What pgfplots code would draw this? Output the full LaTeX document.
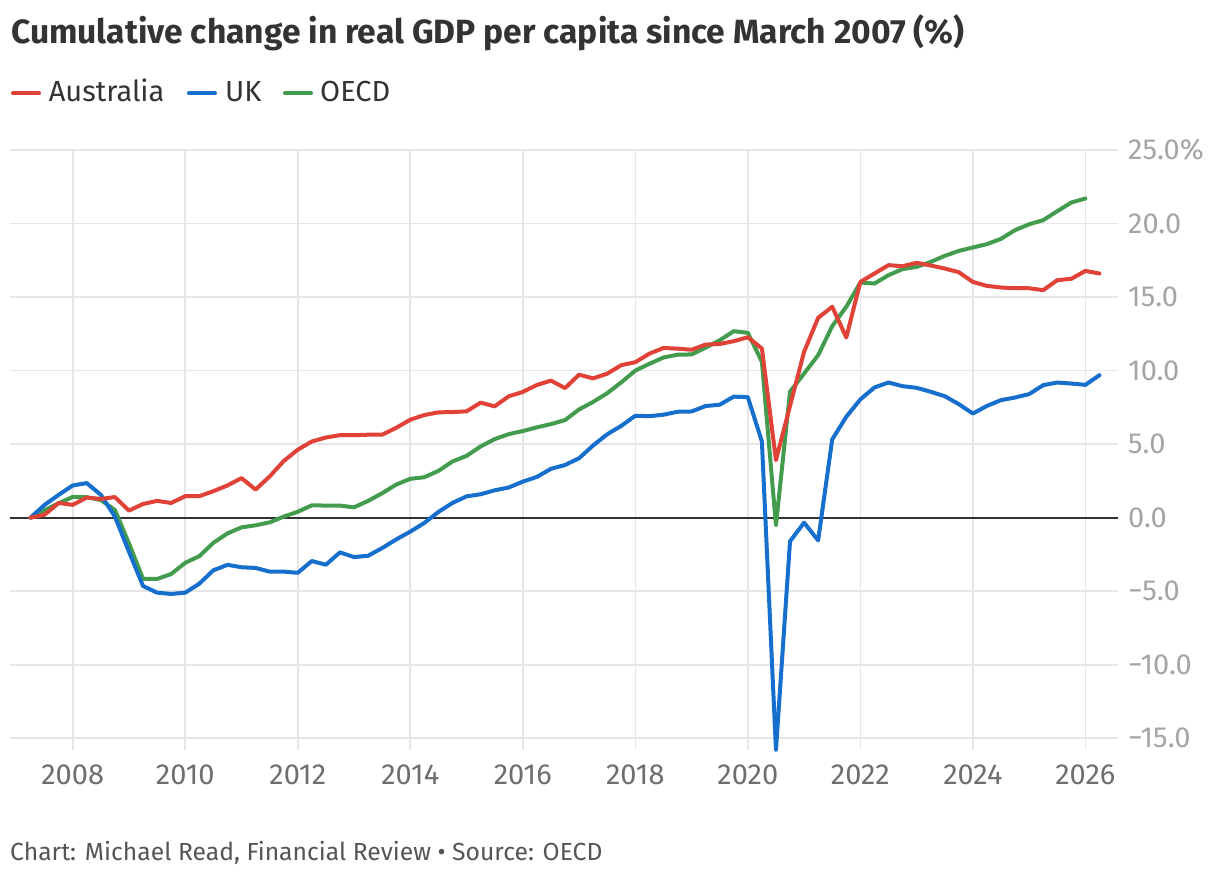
\documentclass[border=0pt]{standalone}
\usepackage{fontspec}
\setmainfont{Fira Sans}
\usepackage{pgfplots}
\usepackage{pgfplotstable}
\pgfplotsset{compat=1.18}
\definecolor{ausred}{RGB}{224,66,56}
\definecolor{ukblue}{RGB}{22,110,205}
\definecolor{oecdgreen}{RGB}{67,155,77}
\definecolor{gridgray}{RGB}{230,230,230}
\definecolor{titlegray}{RGB}{51,51,51}
\definecolor{xlab}{RGB}{110,110,110}
\definecolor{ylab}{RGB}{165,165,165}
\definecolor{footgray}{RGB}{85,85,85}

\pgfplotstableread{
t aus uk
2007.25 0 0
2007.5 0.2 0.87
2007.75 1.0 1.55
2008.0 0.87 2.19
2008.25 1.37 2.35
2008.5 1.27 1.55
2008.75 1.4 0.07
2009.0 0.48 -2.32
2009.25 0.93 -4.65
2009.5 1.14 -5.1
2009.75 1.0 -5.19
2010.0 1.46 -5.1
2010.25 1.46 -4.49
2010.5 1.8 -3.58
2010.75 2.19 -3.21
2011.0 2.69 -3.37
2011.25 1.91 -3.42
2011.5 2.8 -3.67
2011.75 3.85 -3.67
2012.0 4.62 -3.75
2012.25 5.18 -2.95
2012.5 5.45 -3.2
2012.75 5.61 -2.36
2013.0 5.61 -2.68
2013.25 5.64 -2.59
2013.5 5.64 -2.07
2013.75 6.11 -1.48
2014.0 6.66 -0.95
2014.25 6.98 -0.36
2014.5 7.16 0.39
2014.75 7.18 1.0
2015.0 7.23 1.45
2015.25 7.82 1.59
2015.5 7.57 1.86
2015.75 8.25 2.05
2016.0 8.55 2.45
2016.25 9.02 2.77
2016.5 9.32 3.32
2016.75 8.81 3.58
2017.0 9.72 4.04
2017.25 9.47 4.91
2017.5 9.79 5.67
2017.75 10.37 6.24
2018.0 10.57 6.93
2018.25 11.15 6.9
2018.5 11.54 7.0
2018.75 11.49 7.2
2019.0 11.42 7.22
2019.25 11.77 7.59
2019.5 11.81 7.68
2019.75 12.0 8.23
2020.0 12.27 8.19
2020.25 11.5 5.18
2020.5 3.91 -15.8
2020.75 7.6 -1.61
2021.0 11.28 -0.34
2021.25 13.59 -1.55
2021.5 14.34 5.32
2021.75 12.25 6.86
2022.0 16.03 8.04
2022.25 16.6 8.85
2022.5 17.17 9.19
2022.75 17.1 8.94
2023.0 17.33 8.83
2023.25 17.15 8.56
2023.5 16.94 8.26
2023.75 16.69 7.72
2024.0 16.03 7.08
2024.25 15.76 7.6
2024.5 15.65 7.99
2024.75 15.6 8.17
2025.0 15.6 8.4
2025.25 15.47 9.01
2025.5 16.15 9.19
2025.75 16.24 9.12
2026.0 16.78 9.03
2026.25 16.6 9.69
}\ausuk

\pgfplotstableread{
t oecd
2007.25 0
2007.5 0.5
2007.75 0.98
2008.0 1.41
2008.25 1.39
2008.5 1.2
2008.75 0.52
2009.0 -1.75
2009.25 -4.17
2009.5 -4.17
2009.75 -3.83
2010.0 -3.07
2010.25 -2.62
2010.5 -1.71
2010.75 -1.07
2011.0 -0.66
2011.25 -0.52
2011.5 -0.32
2011.75 0.07
2012.0 0.4
2012.25 0.84
2012.5 0.82
2012.75 0.82
2013.0 0.7
2013.25 1.14
2013.5 1.66
2013.75 2.25
2014.0 2.64
2014.25 2.75
2014.5 3.18
2014.75 3.82
2015.0 4.2
2015.25 4.84
2015.5 5.34
2015.75 5.68
2016.0 5.89
2016.25 6.14
2016.5 6.36
2016.75 6.63
2017.0 7.36
2017.25 7.87
2017.5 8.46
2017.75 9.2
2018.0 10.0
2018.25 10.46
2018.5 10.89
2018.75 11.08
2019.0 11.1
2019.25 11.56
2019.5 12.06
2019.75 12.68
2020.0 12.57
2020.25 10.6
2020.5 -0.52
2020.75 8.57
2021.0 9.8
2021.25 11.05
2021.5 13.02
2021.75 14.34
2022.0 15.99
2022.25 15.92
2022.5 16.49
2022.75 16.9
2023.0 17.05
2023.25 17.39
2023.5 17.8
2023.75 18.14
2024.0 18.37
2024.25 18.6
2024.5 18.96
2024.75 19.55
2025.0 19.95
2025.25 20.23
2025.5 20.84
2025.75 21.43
2026.0 21.7
}\oecd

\begin{document}
\begin{tikzpicture}
\path[use as bounding box] (0pt,0pt) rectangle (1220pt,-878pt);
% title
\node[anchor=base west, inner sep=0pt, text=titlegray, font=\fontsize{33.6}{40}\selectfont\bfseries] at (11pt,-43pt) {Cumulative change in real GDP per capita since March 2007 (\%)};
% legend
\draw[ausred, line width=4pt, line cap=round] (13pt,-93.3pt) -- (39pt,-93.3pt);
\node[anchor=base west, inner sep=0pt, text=titlegray, font=\fontsize{29}{35}\selectfont] at (48.6pt,-101.7pt) {Australia};
\draw[ukblue, line width=4pt, line cap=round] (189pt,-93.3pt) -- (215pt,-93.3pt);
\node[anchor=base west, inner sep=0pt, text=titlegray, font=\fontsize{29}{35}\selectfont] at (225pt,-101.7pt) {UK};
\draw[oecdgreen, line width=4pt, line cap=round] (285pt,-93.3pt) -- (311pt,-93.3pt);
\node[anchor=base west, inner sep=0pt, text=titlegray, font=\fontsize{29}{35}\selectfont] at (320pt,-101.7pt) {OECD};
% footer
\node[anchor=base west, inner sep=0pt, text=footgray, font=\fontsize{24.7}{30}\selectfont] at (10pt,-860pt) {Chart: Michael Read, Financial Review • Source: OECD};

\begin{axis}[
  at={(10pt,-750pt)}, anchor=south west,
  scale only axis, width=1108pt, height=600pt,
  xmin=2006.885, xmax=2026.58, ymin=-15.8, ymax=25,
  axis line style={draw=none},
  major tick length=0pt,
  xtick={2008,2010,2012,2014,2016,2018,2020,2022,2024,2026},
  xticklabels={2008,2010,2012,2014,2016,2018,2020,2022,2024,2026},
  ytick={-15,-10,-5,0,5,10,15,20,25},
  yticklabels={−15.0,−10.0,−5.0,0.0,5.0,10.0,15.0,20.0,25.0\%},
  yticklabel pos=right,
  grid=major,
  major grid style={draw=gridgray, line width=1.6pt},
  xticklabel style={font=\fontsize{29}{35}\selectfont, text=xlab, anchor=north, inner sep=0pt, yshift=-15pt},
  yticklabel style={font=\fontsize{29}{35}\selectfont, text=ylab, anchor=west, inner sep=0pt, xshift=10pt},
  clip=false,
]
\addplot[titlegray, line width=1.8pt, forget plot] coordinates {(2006.885,0) (2026.58,0)};
\addplot[oecdgreen, line width=4pt, line join=round, line cap=round] table[x=t, y=oecd] {\oecd};
\addplot[ukblue, line width=4pt, line join=round, line cap=round] table[x=t, y=uk] {\ausuk};
\addplot[ausred, line width=4pt, line join=round, line cap=round] table[x=t, y=aus] {\ausuk};
\end{axis}
\end{tikzpicture}
\end{document}
